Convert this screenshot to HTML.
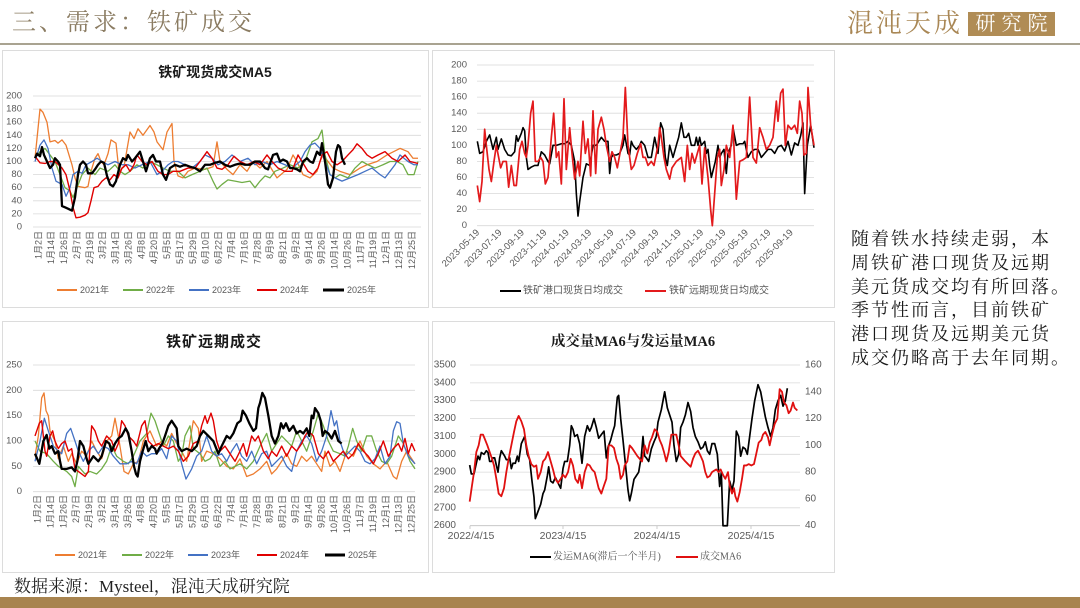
<!DOCTYPE html>
<html><head><meta charset="utf-8">
<style>
html,body{margin:0;padding:0;background:#fff;}
body{width:1080px;height:608px;position:relative;overflow:hidden;font-family:"Liberation Sans","Noto Sans CJK SC",sans-serif;}
.hd{position:absolute;left:12px;top:11px;font:24px/24px "Liberation Serif","Noto Serif CJK SC",serif;letter-spacing:3px;color:#8b7c62;white-space:nowrap;}
.hline{position:absolute;left:0;top:43px;width:1080px;height:2px;background:#a9a391;}
.logo{position:absolute;left:847px;top:11px;font:26px/26px "Liberation Serif","Noto Serif CJK SC",serif;letter-spacing:3px;color:#a98755;white-space:nowrap;}
.logobox{position:absolute;left:968px;top:12px;width:87px;height:24px;background:#b08c55;color:#fff;font:20px/24px "Liberation Serif","Noto Serif CJK SC",serif;letter-spacing:6px;text-align:center;text-indent:6px;}
.para{position:absolute;left:851px;top:228px;font:18px/23.8px "Liberation Serif","Noto Serif CJK SC",serif;letter-spacing:2px;color:#1a1a1a;white-space:nowrap;}
.foot{position:absolute;left:14px;top:577px;font:17px/20px "Liberation Serif","Noto Serif CJK SC",serif;color:#222;white-space:nowrap;}
.bar{position:absolute;left:0;top:597px;width:1080px;height:11px;background:#a8844f;}
svg{position:absolute;left:0;top:0;}
</style></head><body>
<div class="hd">三、需求：铁矿成交</div>
<div class="hline"></div>
<div class="logo">混沌天成</div>
<div class="logobox">研究院</div>

<svg width="1080" height="608" viewBox="0 0 1080 608" xmlns="http://www.w3.org/2000/svg">
<g fill="none" stroke="#dcdcdc" stroke-width="1">
<rect x="2.5" y="50.5" width="426" height="257"/>
<rect x="432.5" y="50.5" width="402" height="257"/>
<rect x="2.5" y="321.5" width="426" height="251"/>
<rect x="432.5" y="321.5" width="402" height="251"/>
</g>

<!-- ============ CHART 1 ============ -->
<text x="215" y="72" text-anchor="middle" dominant-baseline="central" font-family="Liberation Sans, Noto Sans CJK SC, sans-serif" font-weight="bold" font-size="14" fill="#1a1a1a">铁矿现货成交MA5</text>
<g stroke="#d9d9d9" stroke-width="0.8">
<line x1="33" x2="421" y1="227" y2="227"/><line x1="33" x2="421" y1="213.9" y2="213.9"/><line x1="33" x2="421" y1="200.8" y2="200.8"/><line x1="33" x2="421" y1="187.7" y2="187.7"/><line x1="33" x2="421" y1="174.6" y2="174.6"/><line x1="33" x2="421" y1="161.5" y2="161.5"/><line x1="33" x2="421" y1="148.4" y2="148.4"/><line x1="33" x2="421" y1="135.3" y2="135.3"/><line x1="33" x2="421" y1="122.2" y2="122.2"/><line x1="33" x2="421" y1="109.1" y2="109.1"/><line x1="33" x2="421" y1="96" y2="96"/>
</g>
<g font-size="9.5" fill="#595959" text-anchor="end" dominant-baseline="central">
<text x="22" y="227">0</text><text x="22" y="213.9">20</text><text x="22" y="200.8">40</text><text x="22" y="187.7">60</text><text x="22" y="174.6">80</text><text x="22" y="161.5">100</text><text x="22" y="148.4">120</text><text x="22" y="135.3">140</text><text x="22" y="122.2">160</text><text x="22" y="109.1">180</text><text x="22" y="96">200</text>
</g>
<g font-size="9" fill="#595959" text-anchor="end" dominant-baseline="central">
<text transform="translate(38.3,231) rotate(-90)">1月2日</text>
<text transform="translate(51.2,231) rotate(-90)">1月14日</text>
<text transform="translate(64.1,231) rotate(-90)">1月26日</text>
<text transform="translate(76.9,231) rotate(-90)">2月7日</text>
<text transform="translate(89.8,231) rotate(-90)">2月19日</text>
<text transform="translate(102.7,231) rotate(-90)">3月2日</text>
<text transform="translate(115.6,231) rotate(-90)">3月14日</text>
<text transform="translate(128.5,231) rotate(-90)">3月26日</text>
<text transform="translate(141.3,231) rotate(-90)">4月8日</text>
<text transform="translate(154.2,231) rotate(-90)">4月20日</text>
<text transform="translate(167.1,231) rotate(-90)">5月5日</text>
<text transform="translate(180,231) rotate(-90)">5月17日</text>
<text transform="translate(192.9,231) rotate(-90)">5月29日</text>
<text transform="translate(205.7,231) rotate(-90)">6月10日</text>
<text transform="translate(218.6,231) rotate(-90)">6月22日</text>
<text transform="translate(231.5,231) rotate(-90)">7月4日</text>
<text transform="translate(244.4,231) rotate(-90)">7月16日</text>
<text transform="translate(257.3,231) rotate(-90)">7月28日</text>
<text transform="translate(270.1,231) rotate(-90)">8月9日</text>
<text transform="translate(283,231) rotate(-90)">8月21日</text>
<text transform="translate(295.9,231) rotate(-90)">9月2日</text>
<text transform="translate(308.8,231) rotate(-90)">9月14日</text>
<text transform="translate(321.7,231) rotate(-90)">9月26日</text>
<text transform="translate(334.5,231) rotate(-90)">10月14日</text>
<text transform="translate(347.4,231) rotate(-90)">10月26日</text>
<text transform="translate(360.3,231) rotate(-90)">11月7日</text>
<text transform="translate(373.2,231) rotate(-90)">11月19日</text>
<text transform="translate(386.1,231) rotate(-90)">12月1日</text>
<text transform="translate(398.9,231) rotate(-90)">12月13日</text>
<text transform="translate(411.8,231) rotate(-90)">12月25日</text>
</g>
<g transform="matrix(1,0,0,-0.655,0,227)" fill="none" stroke-linejoin="round">
<polyline vector-effect="non-scaling-stroke" stroke="#ed7d31" stroke-width="1.3" points="35,105 38,150 40,180 43,175 47,160 50,130 55,132 58,128 62,133 66,125 68,115 72,95 75,75 78,62 85,60 88,62 91,85 95,105 98,112 101,100 104,95 108,112 111,133 116,128 119,85 124,92 130,145 134,135 138,150 143,140 150,155 154,145 157,130 163,118 167,145 172,158 174,100 178,78 183,75 188,85 195,90 205,88 213,92 217,130 220,100 227,88 233,80 240,95 247,85 253,100 260,90 267,100 277,75 287,88 293,110 297,100 303,80 310,75 317,85 320,100 323,110 333,90 340,85 350,80 360,90 367,95 377,100 387,110 400,120 408,115 413,105 418,105"/>
<polyline vector-effect="non-scaling-stroke" stroke="#70ad47" stroke-width="1.3" points="35,105 40,115 45,120 50,110 55,100 60,80 65,60 70,55 73,45 77,60 82,80 88,90 95,80 100,90 108,85 115,95 120,85 125,80 130,85 137,95 143,90 150,100 157,95 163,90 170,85 178,85 185,75 192,80 200,85 207,90 213,70 217,58 222,65 228,72 235,70 242,68 250,70 255,60 260,70 265,78 270,75 275,85 283,90 290,95 298,90 305,100 312,130 318,135 322,148 325,110 330,80 335,75 340,80 348,75 355,90 362,100 368,95 375,90 383,95 390,100 397,100 403,95 408,80 414,80 418,100"/>
<polyline vector-effect="non-scaling-stroke" stroke="#4472c4" stroke-width="1.3" points="35,100 40,125 44,133 48,120 52,90 56,70 62,65 66,47 70,60 73,80 78,85 82,82 86,95 92,100 97,105 102,100 108,95 115,100 122,95 128,95 135,90 142,95 150,100 157,80 162,85 168,95 173,100 178,100 185,95 192,90 200,100 205,110 212,105 218,95 225,100 232,110 240,100 248,105 255,95 262,100 270,95 277,100 285,95 292,90 300,100 305,115 310,125 315,128 320,120 325,100 330,80 335,75 342,70 350,75 358,80 365,85 372,90 380,80 385,75 390,85 395,95 400,110 408,100 414,95 418,95"/>
<polyline vector-effect="non-scaling-stroke" stroke="#e00000" stroke-width="1.4" points="35,108 40,98 45,97 50,100 55,100 62,90 66,80 70,55 73,30 76,14 80,15 85,18 88,22 91,40 94,60 98,62 102,70 106,75 110,72 114,80 118,75 122,90 126,95 130,85 134,95 137,110 142,100 147,95 152,100 158,85 163,80 168,80 173,85 180,85 188,90 195,90 200,100 207,115 212,105 217,90 222,88 228,95 234,108 240,100 247,95 254,100 260,95 267,110 272,100 278,90 285,85 292,85 298,110 302,100 308,85 313,80 318,90 322,110 327,115 332,100 337,95 342,100 348,110 353,118 357,127 362,120 367,110 372,105 378,110 385,115 392,105 398,100 405,110 410,100 418,97"/>
<polyline vector-effect="non-scaling-stroke" stroke="#000" stroke-width="2.3" points="35,105 37,112 40,108 42,122 44,110 47,100 50,90 53,95 55,105 58,100 60,95 62,32 65,30 68,28 72,25 75,45 78,80 80,95 83,100 86,95 88,82 92,82 95,88 98,95 101,100 104,98 107,78 110,65 113,62 116,70 120,95 123,105 126,102 128,110 132,100 135,105 140,115 143,100 146,85 150,105 153,110 156,100 160,100 163,80 166,72 170,90 175,95 180,92 185,95 190,92 195,90 200,85 205,95 210,95 215,98 220,100 225,95 230,92 235,95 240,97 245,95 250,95 255,100 260,100 265,90 268,88 273,110 277,112 280,100 283,103 287,100 290,90 293,90 297,88 300,85 303,100 307,105 310,100 313,98 317,115 320,110 322,128 325,100 328,65 330,60 333,75 336,115 338,125 340,122 342,105 345,95"/>
</g>
<g font-size="9" fill="#595959" dominant-baseline="central">
<line x1="57" x2="77" y1="290" y2="290" stroke="#ed7d31" stroke-width="2"/><text x="80" y="290">2021年</text>
<line x1="123" x2="143" y1="290" y2="290" stroke="#70ad47" stroke-width="2"/><text x="146" y="290">2022年</text>
<line x1="189" x2="209" y1="290" y2="290" stroke="#4472c4" stroke-width="2"/><text x="212" y="290">2023年</text>
<line x1="257" x2="277" y1="290" y2="290" stroke="#e00000" stroke-width="2"/><text x="280" y="290">2024年</text>
<line x1="323" x2="344" y1="290" y2="290" stroke="#000" stroke-width="3"/><text x="347" y="290">2025年</text>
</g>

<!-- ============ CHART 2 ============ -->
<g stroke="#d9d9d9" stroke-width="0.8">
<line x1="477" x2="814" y1="225.7" y2="225.7"/><line x1="477" x2="814" y1="209.6" y2="209.6"/><line x1="477" x2="814" y1="193.6" y2="193.6"/><line x1="477" x2="814" y1="177.5" y2="177.5"/><line x1="477" x2="814" y1="161.4" y2="161.4"/><line x1="477" x2="814" y1="145.35" y2="145.35"/><line x1="477" x2="814" y1="129.3" y2="129.3"/><line x1="477" x2="814" y1="113.2" y2="113.2"/><line x1="477" x2="814" y1="97.1" y2="97.1"/><line x1="477" x2="814" y1="81.1" y2="81.1"/><line x1="477" x2="814" y1="65" y2="65"/>
</g>
<g font-size="9.5" fill="#595959" text-anchor="end" dominant-baseline="central">
<text x="467" y="225.7">0</text><text x="467" y="209.6">20</text><text x="467" y="193.6">40</text><text x="467" y="177.5">60</text><text x="467" y="161.4">80</text><text x="467" y="145.35">100</text><text x="467" y="129.3">120</text><text x="467" y="113.2">140</text><text x="467" y="97.1">160</text><text x="467" y="81.1">180</text><text x="467" y="65">200</text>
</g>
<g font-size="9.5" fill="#595959" text-anchor="end">
<text transform="translate(480,233) rotate(-45)">2023-05-19</text>
<text transform="translate(502.4,233) rotate(-45)">2023-07-19</text>
<text transform="translate(524.8,233) rotate(-45)">2023-09-19</text>
<text transform="translate(547.2,233) rotate(-45)">2023-11-19</text>
<text transform="translate(569.6,233) rotate(-45)">2024-01-19</text>
<text transform="translate(592,233) rotate(-45)">2024-03-19</text>
<text transform="translate(614.4,233) rotate(-45)">2024-05-19</text>
<text transform="translate(636.8,233) rotate(-45)">2024-07-19</text>
<text transform="translate(659.2,233) rotate(-45)">2024-09-19</text>
<text transform="translate(681.6,233) rotate(-45)">2024-11-19</text>
<text transform="translate(704,233) rotate(-45)">2025-01-19</text>
<text transform="translate(726.4,233) rotate(-45)">2025-03-19</text>
<text transform="translate(748.8,233) rotate(-45)">2025-05-19</text>
<text transform="translate(771.2,233) rotate(-45)">2025-07-19</text>
<text transform="translate(793.6,233) rotate(-45)">2025-09-19</text>
</g>
<g transform="matrix(0.33333,0,0,-0.8035,428,225.7)" fill="none" stroke-linejoin="round">
<polyline vector-effect="non-scaling-stroke" stroke="#000" stroke-width="1.6" points="148,105 155,90 165,92 175,105 185,113 195,95 205,110 210,95 220,108 230,95 240,88 250,87 260,92 265,112 270,105 280,115 285,122 290,118 295,85 300,70 310,73 320,75 330,75 340,92 350,88 360,80 365,77 375,100 385,100 400,102 410,102 420,105 430,100 440,80 445,40 450,12 455,30 465,60 475,77 485,75 495,100 505,100 520,110 530,105 540,105 545,65 550,85 555,88 565,88 575,90 585,100 590,113 600,90 605,88 610,105 615,100 625,95 635,100 640,105 650,100 660,85 670,85 680,110 690,90 698,128 705,120 712,85 718,75 725,100 735,85 745,100 752,110 760,128 768,110 775,110 782,115 790,100 800,100 805,110 810,100 815,110 820,100 830,105 835,90 840,95 845,75 850,60 856,70 862,80 870,100 875,85 880,90 888,95 895,65 900,90 910,100 915,122 925,100 935,102 945,102 950,105 960,85 970,92 980,95 990,95 1000,85 1010,90 1020,95 1030,95 1040,90 1050,98 1060,100 1070,93 1080,105 1090,88 1100,103 1110,100 1118,112 1125,128 1130,40 1138,100 1148,125 1158,97"/>
<polyline vector-effect="non-scaling-stroke" stroke="#e31a1c" stroke-width="1.7" points="148,50 155,30 162,55 170,120 175,100 183,70 190,55 198,80 205,100 212,85 218,72 225,80 235,80 242,48 250,75 258,50 265,50 275,95 282,105 290,90 295,85 300,100 308,140 315,155 322,80 330,80 338,85 345,80 352,52 360,60 370,110 377,140 385,85 392,92 400,52 408,158 415,70 425,122 432,90 440,58 450,80 455,62 465,130 472,90 480,108 488,62 495,143 503,65 510,120 520,135 528,120 535,100 545,80 552,92 560,85 568,72 575,88 585,110 592,172 600,100 610,70 618,75 628,90 638,102 645,85 652,85 660,75 670,80 678,75 690,100 695,122 700,110 708,85 715,70 725,58 732,72 745,80 760,85 770,55 778,100 785,70 792,90 800,78 808,90 815,100 822,52 830,97 840,60 848,20 853,0 860,40 868,85 875,95 880,50 888,70 895,100 905,85 915,125 925,33 935,80 945,82 955,85 965,160 975,85 985,78 995,122 1005,110 1015,95 1025,100 1035,110 1045,155 1050,130 1058,165 1065,170 1072,100 1080,125 1090,120 1100,125 1108,115 1115,155 1122,140 1128,88 1135,90 1140,172 1148,125 1158,100"/>
</g>
<g font-size="10" fill="#595959" dominant-baseline="central">
<line x1="500" x2="521" y1="291" y2="291" stroke="#000" stroke-width="2"/><text x="523" y="291">铁矿港口现货日均成交</text>
<line x1="645" x2="666" y1="291" y2="291" stroke="#e31a1c" stroke-width="2"/><text x="669" y="291">铁矿远期现货日均成交</text>
</g>

<!-- ============ CHART 3 ============ -->
<text x="214" y="342" text-anchor="middle" dominant-baseline="central" font-family="Liberation Sans, Noto Sans CJK SC, sans-serif" font-weight="bold" font-size="15" letter-spacing="1" fill="#1a1a1a">铁矿远期成交</text>
<g stroke="#d9d9d9" stroke-width="0.8">
<line x1="33" x2="415" y1="491.7" y2="491.7"/><line x1="33" x2="415" y1="466.4" y2="466.4"/><line x1="33" x2="415" y1="441" y2="441"/><line x1="33" x2="415" y1="415.7" y2="415.7"/><line x1="33" x2="415" y1="390.3" y2="390.3"/><line x1="33" x2="415" y1="365" y2="365"/>
</g>
<g font-size="9.5" fill="#595959" text-anchor="end" dominant-baseline="central">
<text x="22" y="491.7">0</text><text x="22" y="466.4">50</text><text x="22" y="441">100</text><text x="22" y="415.7">150</text><text x="22" y="390.3">200</text><text x="22" y="365">250</text>
</g>
<g font-size="9" fill="#595959" text-anchor="end" dominant-baseline="central">
<text transform="translate(37.5,495) rotate(-90)">1月2日</text>
<text transform="translate(50.4,495) rotate(-90)">1月14日</text>
<text transform="translate(63.3,495) rotate(-90)">1月26日</text>
<text transform="translate(76.2,495) rotate(-90)">2月7日</text>
<text transform="translate(89.1,495) rotate(-90)">2月19日</text>
<text transform="translate(102,495) rotate(-90)">3月2日</text>
<text transform="translate(114.9,495) rotate(-90)">3月14日</text>
<text transform="translate(127.8,495) rotate(-90)">3月26日</text>
<text transform="translate(140.7,495) rotate(-90)">4月8日</text>
<text transform="translate(153.6,495) rotate(-90)">4月20日</text>
<text transform="translate(166.5,495) rotate(-90)">5月5日</text>
<text transform="translate(179.4,495) rotate(-90)">5月17日</text>
<text transform="translate(192.3,495) rotate(-90)">5月29日</text>
<text transform="translate(205.2,495) rotate(-90)">6月10日</text>
<text transform="translate(218.1,495) rotate(-90)">6月22日</text>
<text transform="translate(231,495) rotate(-90)">7月4日</text>
<text transform="translate(243.9,495) rotate(-90)">7月16日</text>
<text transform="translate(256.8,495) rotate(-90)">7月28日</text>
<text transform="translate(269.7,495) rotate(-90)">8月9日</text>
<text transform="translate(282.6,495) rotate(-90)">8月21日</text>
<text transform="translate(295.5,495) rotate(-90)">9月2日</text>
<text transform="translate(308.4,495) rotate(-90)">9月14日</text>
<text transform="translate(321.3,495) rotate(-90)">9月26日</text>
<text transform="translate(334.2,495) rotate(-90)">10月14日</text>
<text transform="translate(347.1,495) rotate(-90)">10月26日</text>
<text transform="translate(360,495) rotate(-90)">11月7日</text>
<text transform="translate(372.9,495) rotate(-90)">11月19日</text>
<text transform="translate(385.8,495) rotate(-90)">12月1日</text>
<text transform="translate(398.7,495) rotate(-90)">12月13日</text>
<text transform="translate(411.6,495) rotate(-90)">12月25日</text>
</g>
<g transform="matrix(0.33333,0,0,-0.5068,0,491.7)" fill="none" stroke-linejoin="round">
<polyline vector-effect="non-scaling-stroke" stroke="#ed7d31" stroke-width="1.3" points="105,70 115,110 125,185 132,195 138,160 145,150 150,120 165,100 175,65 190,90 205,60 215,75 230,55 245,80 260,70 275,100 290,80 305,65 320,100 335,110 345,145 355,110 372,40 385,35 400,55 415,60 430,100 450,120 470,90 485,100 500,90 515,115 530,95 545,80 560,60 580,140 595,125 605,60 620,80 640,75 660,65 680,50 700,45 720,65 740,30 760,35 780,45 800,60 815,35 830,45 845,60 860,75 875,55 890,50 905,70 920,60 935,70 950,55 965,40 975,80 990,50 1005,60 1020,40 1040,80 1060,70 1080,100 1100,70 1120,55 1140,45 1160,60 1180,30 1190,25 1205,60 1220,80 1235,65 1245,55"/>
<polyline vector-effect="non-scaling-stroke" stroke="#70ad47" stroke-width="1.3" points="105,100 120,80 140,75 160,60 175,50 200,40 215,30 225,10 235,50 255,35 270,40 290,35 305,45 320,60 335,90 350,70 370,60 385,55 400,70 420,100 440,115 453,155 465,140 475,120 490,90 505,110 520,100 535,60 545,70 555,110 570,130 580,85 600,75 615,60 630,65 645,80 660,50 675,60 690,45 705,50 720,55 740,45 760,60 780,90 800,115 815,80 830,95 845,110 860,100 875,90 890,120 905,100 920,80 940,120 955,155 970,130 985,100 1000,80 1020,75 1035,70 1045,90 1058,125 1070,100 1085,80 1100,110 1115,110 1130,80 1145,60 1160,55 1175,70 1195,110 1210,95 1230,60 1245,45"/>
<polyline vector-effect="non-scaling-stroke" stroke="#4472c4" stroke-width="1.3" points="105,60 120,100 133,145 145,120 160,90 175,80 185,75 200,115 212,125 225,100 235,80 250,60 265,80 280,90 295,75 310,90 325,85 340,70 360,55 380,55 395,60 410,55 425,80 440,70 455,75 470,75 485,85 500,65 515,110 530,100 545,55 558,25 575,45 590,70 605,80 620,110 635,80 650,70 665,75 680,60 695,80 710,95 725,70 740,60 755,80 770,55 785,75 800,80 815,50 830,60 845,70 860,50 875,40 890,80 905,100 920,110 935,95 950,60 965,80 980,110 993,160 1003,130 1010,140 1020,100 1035,70 1050,80 1065,90 1080,80 1095,60 1110,55 1125,65 1140,90 1155,55 1170,70 1180,120 1190,138 1200,135 1210,95 1225,70 1245,55"/>
<polyline vector-effect="non-scaling-stroke" stroke="#e00000" stroke-width="1.4" points="105,110 118,135 125,140 135,80 140,70 150,110 158,120 165,100 175,85 185,95 195,100 205,80 215,85 225,45 235,40 255,30 265,40 275,130 285,120 295,100 305,90 320,110 335,100 345,80 355,95 365,140 375,130 385,110 400,100 410,90 425,130 435,140 445,100 460,90 475,95 490,90 505,85 520,90 535,80 550,60 565,70 580,95 595,100 605,130 615,150 622,135 633,155 640,140 650,100 660,80 675,90 690,75 705,60 720,80 730,95 740,70 755,110 765,100 775,110 790,80 805,65 815,80 830,70 845,90 860,70 875,90 890,80 905,95 915,110 925,120 940,110 955,75 970,65 985,80 1000,60 1015,70 1030,80 1045,65 1060,75 1075,95 1090,80 1105,70 1120,55 1135,75 1150,100 1165,70 1180,85 1195,95 1205,80 1215,105 1225,75 1235,95 1245,80"/>
<polyline vector-effect="non-scaling-stroke" stroke="#000" stroke-width="2.3" points="105,75 118,55 130,100 140,112 148,85 155,90 165,75 175,80 180,60 185,45 200,45 215,48 225,40 232,60 240,100 250,90 260,65 265,55 280,70 295,60 305,70 318,100 328,95 335,80 345,95 355,105 365,110 377,125 385,115 395,80 402,50 408,35 413,30 420,60 428,80 437,100 445,80 455,90 465,85 470,75 477,85 487,95 495,110 505,130 515,140 525,130 530,125 535,90 545,80 560,85 575,80 590,90 600,110 610,120 625,110 640,100 655,75 665,90 680,110 690,105 700,115 712,135 722,140 728,160 738,150 748,135 760,120 768,125 775,165 780,175 787,195 795,185 805,150 815,110 825,95 835,110 843,135 850,125 858,135 868,120 880,130 890,115 900,120 910,115 920,125 928,110 935,150 940,145 945,165 955,155 962,140 968,110 975,120 985,115 995,105 1005,120 1015,100 1025,95"/>
</g>
<g font-size="9" fill="#595959" dominant-baseline="central">
<line x1="55" x2="75" y1="555" y2="555" stroke="#ed7d31" stroke-width="2"/><text x="78" y="555">2021年</text>
<line x1="122" x2="142" y1="555" y2="555" stroke="#70ad47" stroke-width="2"/><text x="145" y="555">2022年</text>
<line x1="188" x2="208" y1="555" y2="555" stroke="#4472c4" stroke-width="2"/><text x="211" y="555">2023年</text>
<line x1="257" x2="277" y1="555" y2="555" stroke="#e00000" stroke-width="2"/><text x="280" y="555">2024年</text>
<line x1="325" x2="345" y1="555" y2="555" stroke="#000" stroke-width="3"/><text x="348" y="555">2025年</text>
</g>

<!-- ============ CHART 4 ============ -->
<text x="633" y="342" text-anchor="middle" dominant-baseline="central" font-family="Liberation Serif, Noto Serif CJK SC, serif" font-weight="bold" font-size="14.5" fill="#1a1a1a">成交量MA6与发运量MA6</text>
<g stroke="#d9d9d9" stroke-width="0.8">
<line x1="470" x2="800" y1="507.8" y2="507.8"/><line x1="470" x2="800" y1="490" y2="490"/><line x1="470" x2="800" y1="472.1" y2="472.1"/><line x1="470" x2="800" y1="454.3" y2="454.3"/><line x1="470" x2="800" y1="436.4" y2="436.4"/><line x1="470" x2="800" y1="418.6" y2="418.6"/><line x1="470" x2="800" y1="400.7" y2="400.7"/><line x1="470" x2="800" y1="382.9" y2="382.9"/><line x1="470" x2="800" y1="365" y2="365"/>
</g>
<g stroke="#bfbfbf" stroke-width="0.8">
<line x1="470" x2="800" y1="525.7" y2="525.7"/>
<line x1="470" x2="470" y1="525.7" y2="529"/><line x1="563" x2="563" y1="525.7" y2="529"/><line x1="657" x2="657" y1="525.7" y2="529"/><line x1="751" x2="751" y1="525.7" y2="529"/>
</g>
<g font-size="10" fill="#595959" text-anchor="end" dominant-baseline="central">
<text x="456" y="525.7">2600</text><text x="456" y="507.8">2700</text><text x="456" y="490">2800</text><text x="456" y="472.1">2900</text><text x="456" y="454.3">3000</text><text x="456" y="436.4">3100</text><text x="456" y="418.6">3200</text><text x="456" y="400.7">3300</text><text x="456" y="382.9">3400</text><text x="456" y="365">3500</text>
</g>
<g font-size="10" fill="#595959" text-anchor="start" dominant-baseline="central">
<text x="805" y="525.7">40</text><text x="805" y="498.9">60</text><text x="805" y="472.1">80</text><text x="805" y="445.4">100</text><text x="805" y="418.6">120</text><text x="805" y="391.8">140</text><text x="805" y="365">160</text>
</g>
<g font-size="10.5" fill="#595959" text-anchor="middle" dominant-baseline="central">
<text x="471" y="536">2022/4/15</text><text x="563" y="536">2023/4/15</text><text x="657" y="536">2024/4/15</text><text x="751" y="536">2025/4/15</text>
</g>
<g transform="matrix(0.33333,0,0,-0.17856,428,990)" fill="none" stroke-linejoin="round">
<polyline vector-effect="non-scaling-stroke" stroke="#000" stroke-width="1.7" points="125,2940 130,2890 138,2890 145,2950 150,2990 155,2970 160,3010 168,3000 175,3020 180,3010 185,2960 190,2960 195,2980 200,2980 210,2900 215,2980 220,3020 230,2990 235,2970 240,2970 245,2980 250,2920 255,2950 262,2950 268,2990 272,2960 280,3060 290,3100 298,3000 305,2970 312,2850 318,2760 322,2640 330,2680 338,2720 345,2780 350,2800 358,2880 362,2930 368,2850 375,2840 382,2870 390,2840 398,2810 405,2920 410,2960 418,2960 425,3050 430,3160 435,3140 440,3100 448,3110 455,3060 462,2950 470,3100 478,3160 485,3130 490,3150 498,3200 505,3150 512,3090 520,3110 528,3130 535,2980 540,3040 548,3080 555,3130 560,3160 568,3320 572,3330 578,3200 585,3080 592,2950 600,2800 605,2740 610,2780 618,2860 625,2880 632,2900 640,2990 645,3100 650,2990 655,2980 662,2960 670,3030 678,3070 685,3100 690,3180 700,3250 710,3350 718,3260 725,3220 732,3180 738,3050 745,2960 752,3000 758,3150 765,3180 772,3220 780,3290 788,3240 795,3150 802,3100 810,3070 818,3030 825,3040 832,3070 838,3020 845,3000 852,3060 860,3060 868,3000 875,2820 880,2900 885,2600 892,2600 898,2600 905,2850 912,2800 918,2850 925,3130 932,3100 938,2990 945,3040 952,3030 958,3000 965,3100 972,3200 980,3300 990,3390 998,3350 1005,3280 1012,3210 1020,3150 1028,3100 1035,3150 1042,3250 1050,3300 1058,3330 1065,3270 1072,3300 1078,3370"/>
</g>
<g transform="matrix(0.33333,0,0,-1.3392,428,579.27)" fill="none" stroke-linejoin="round">
<polyline vector-effect="non-scaling-stroke" stroke="#e01010" stroke-width="1.8" points="125,58 132,70 138,80 145,95 152,100 158,108 165,108 170,105 178,100 185,95 192,90 198,85 205,75 212,64 220,62 228,68 235,80 242,90 250,100 258,110 265,118 272,122 280,118 288,112 295,100 302,92 310,86 318,84 325,85 330,75 338,80 345,88 352,90 360,95 368,88 375,82 382,75 390,72 398,75 405,78 412,76 420,80 428,90 435,85 442,75 450,72 455,78 462,68 470,80 478,86 485,85 492,82 500,80 505,75 512,68 520,64 528,70 535,75 542,100 550,100 558,98 565,90 572,85 578,75 585,78 590,85 598,88 605,100 612,98 620,95 628,92 635,90 642,88 650,100 658,94 665,102 672,106 680,112 688,110 695,104 702,100 708,95 715,88 722,95 730,108 738,108 745,108 752,100 758,92 765,90 772,88 780,86 788,84 795,90 802,94 810,96 818,92 825,88 832,80 838,76 845,77 852,80 858,81 865,82 872,80 878,82 885,78 892,75 900,80 905,70 912,64 918,68 922,62 928,58 935,65 942,75 948,85 955,85 962,86 970,85 978,86 985,94 992,102 1000,104 1005,108 1012,110 1020,106 1025,100 1032,108 1040,116 1048,120 1055,142 1062,140 1068,132 1075,130 1082,124 1088,126 1095,132 1100,128 1108,126"/>
</g>
<g font-size="10" fill="#595959" dominant-baseline="central" font-family="Liberation Serif, Noto Serif CJK SC, serif">
<line x1="530" x2="551" y1="557" y2="557" stroke="#000" stroke-width="2"/><text x="553" y="557">发运MA6(滞后一个半月)</text>
<line x1="676" x2="698" y1="557" y2="557" stroke="#e01010" stroke-width="2"/><text x="700" y="557">成交MA6</text>
</g>
</svg>

<div class="para">随着铁水持续走弱，本<br>周铁矿港口现货及远期<br>美元货成交均有所回落。<br>季节性而言，目前铁矿<br>港口现货及远期美元货<br>成交仍略高于去年同期。</div>
<div class="foot">数据来源：Mysteel，混沌天成研究院</div>
<div class="bar"></div>
</body></html>
